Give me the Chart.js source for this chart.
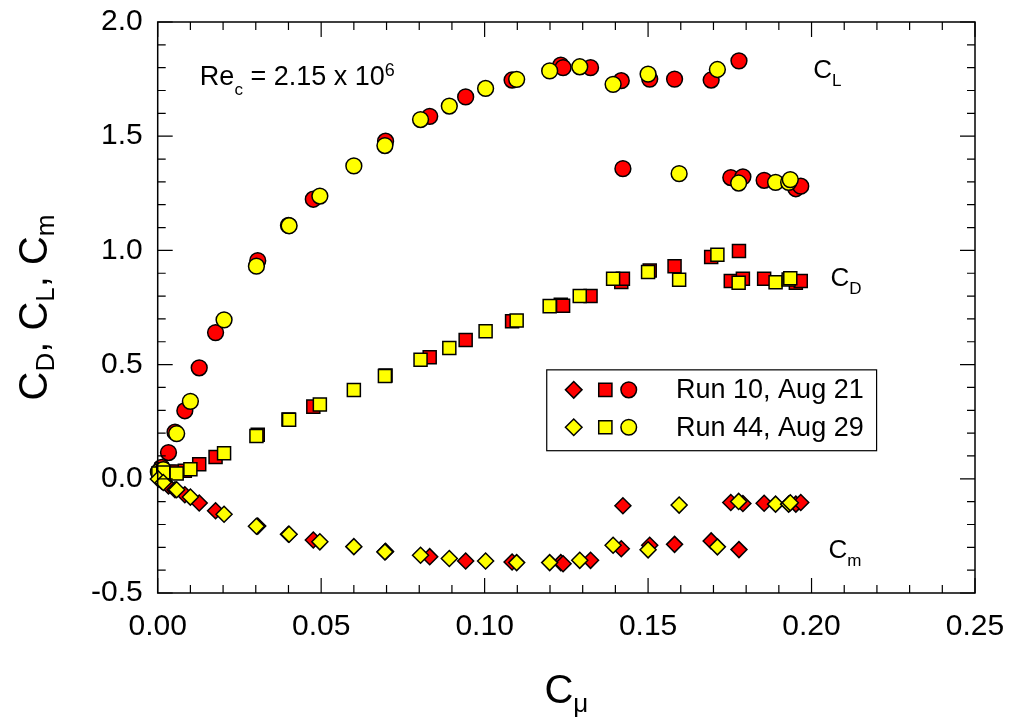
<!DOCTYPE html>
<html>
<head>
<meta charset="utf-8">
<script src="https://cdn.jsdelivr.net/npm/chart.js@4.4.0/dist/chart.umd.min.js"></script>
<style>
html,body{margin:0;padding:0;background:#fff;}
#wrap{width:1010px;height:721px;position:relative;}
</style>
</head>
<body>
<div id="wrap"><canvas id="c"></canvas></div>
<script>
// ---- Data ----
const run10Cmu = [0.0012,0.0033,0.0053,0.0083,0.0127,0.0177,0.0306,0.0400,0.0476,0.0697,0.0832,0.0942,0.1084,0.1233,0.1240,0.1324,0.1418,0.1505,0.1581,0.1693,0.1778,0.1423,0.1753,0.1790,0.1855,0.1952,0.1967];
const run10CL  = [0.050,0.115,0.204,0.298,0.486,0.640,0.955,1.110,1.224,1.478,1.587,1.672,1.746,1.811,1.800,1.800,1.743,1.750,1.750,1.746,1.830,1.358,1.319,1.322,1.307,1.270,1.281];
const run10CD  = [0.042,0.030,0.032,0.035,0.064,0.095,0.193,0.260,0.316,0.452,0.532,0.608,0.690,0.762,0.758,0.800,0.862,0.912,0.931,0.971,0.997,0.876,0.866,0.876,0.876,0.858,0.866];
const run10Cm  = [-0.010,-0.031,-0.048,-0.070,-0.106,-0.140,-0.207,-0.243,-0.268,-0.318,-0.341,-0.360,-0.364,-0.367,-0.372,-0.357,-0.306,-0.291,-0.287,-0.272,-0.310,-0.118,-0.104,-0.108,-0.107,-0.111,-0.104];

const run44Cmu = [0.0002,0.0017,0.0058,0.0100,0.0203,0.0302,0.0402,0.0496,0.0600,0.0695,0.0804,0.0892,0.1003,0.1098,0.1199,0.1291,0.1393,0.1500,0.1712,0.1595,0.1777,0.1890,0.1930,0.1935];
const run44CL  = [0.030,0.040,0.198,0.339,0.696,0.931,1.108,1.238,1.370,1.459,1.573,1.632,1.709,1.749,1.786,1.804,1.727,1.772,1.792,1.336,1.295,1.298,1.298,1.310];
const run44CD  = [0.023,0.028,0.023,0.042,0.112,0.187,0.259,0.325,0.389,0.450,0.521,0.573,0.646,0.693,0.756,0.800,0.876,0.905,0.981,0.871,0.858,0.861,0.873,0.878];
const run44Cm  = [-0.001,-0.016,-0.048,-0.080,-0.155,-0.208,-0.243,-0.276,-0.297,-0.320,-0.335,-0.349,-0.360,-0.367,-0.367,-0.357,-0.291,-0.311,-0.298,-0.115,-0.099,-0.111,-0.111,-0.105];

const xTickValues = [0.00,0.05,0.10,0.15,0.20,0.25];
const yTickValues = [-0.5,0.0,0.5,1.0,1.5,2.0];
const seriesNames = ['Run 10, Aug 21','Run 44, Aug 29'];
const seriesColors = ['#FF0000','#FFFF00'];

// ---- Build datasets ----
function pts(xs, ys){ return xs.map((x,i)=>({x:x, y:ys[i]})); }
const FONT = "'Liberation Sans', Arial, Helvetica, sans-serif";

function ds(label, data, color, style, radius, order){
  return {label, data, showLine:false, pointStyle:style, pointRadius:radius, pointHoverRadius:radius,
    backgroundColor:color, borderColor:'#000', pointBorderWidth:1.5, borderWidth:1.5, order, clip:false};
}
const datasets = [
  ds(seriesNames[1]+' Cm', pts(run44Cmu, run44Cm), seriesColors[1], 'rectRot', 8, 0),
  ds(seriesNames[1]+' CD', pts(run44Cmu, run44CD), seriesColors[1], 'rect', 9.2, 0),
  ds(seriesNames[1]+' CL', pts(run44Cmu, run44CL), seriesColors[1], 'circle', 7.9, 0),
  ds(seriesNames[0]+' Cm', pts(run10Cmu, run10Cm), seriesColors[0], 'rectRot', 8, 1),
  ds(seriesNames[0]+' CD', pts(run10Cmu, run10CD), seriesColors[0], 'rect', 9.2, 1),
  ds(seriesNames[0]+' CL', pts(run10Cmu, run10CL), seriesColors[0], 'circle', 7.9, 1)
];

// text with sub/superscripts: parts = [[text, fontSize, dy]]
function drawRuns(ctx, x, y, parts, align){
  let total = 0;
  parts.forEach(p=>{ ctx.font = p[1]+'px '+FONT; total += ctx.measureText(p[0]).width; });
  let cx = align==='center' ? x - total/2 : x;
  ctx.textBaseline = 'alphabetic';
  ctx.textAlign = 'left';
  parts.forEach(p=>{ ctx.font = p[1]+'px '+FONT; ctx.fillText(p[0], cx, y + (p[2]||0)); cx += ctx.measureText(p[0]).width; });
}

function marker(ctx, style, x, y, color){
  ctx.save();
  ctx.fillStyle = color; ctx.strokeStyle = '#000'; ctx.lineWidth = 1.5;
  ctx.beginPath();
  if (style==='rectRot'){ const r=8.3; ctx.moveTo(x-r,y); ctx.lineTo(x,y-r); ctx.lineTo(x+r,y); ctx.lineTo(x,y+r); ctx.closePath(); }
  else if (style==='rect'){ const s=6.6; ctx.rect(x-s,y-s,2*s,2*s); }
  else { ctx.arc(x,y,7.8,0,Math.PI*2); }
  ctx.fill(); ctx.stroke();
  ctx.restore();
}

const decorations = {
  id:'decorations',
  afterDatasetsDraw(chart){
    const ctx = chart.ctx, a = chart.chartArea, xs = chart.scales.x, ys = chart.scales.y;
    ctx.save();
    // frame
    ctx.strokeStyle = '#000'; ctx.lineWidth = 1.5;
    ctx.strokeRect(a.left, a.top, a.right-a.left, a.bottom-a.top);
    // ticks inward on all sides
    ctx.lineWidth = 1.2;
    ctx.beginPath();
    for (let i=0;i<xTickValues.length;i++){
      const v = xTickValues[i];
      const px = xs.getPixelForValue(v);
      ctx.moveTo(px, a.bottom); ctx.lineTo(px, a.bottom-15);
      ctx.moveTo(px, a.top); ctx.lineTo(px, a.top+15);
      if (i < xTickValues.length-1){
        const step = (xTickValues[i+1]-v)/5;
        for (let k=1;k<5;k++){
          const mx = xs.getPixelForValue(v+k*step);
          ctx.moveTo(mx, a.bottom); ctx.lineTo(mx, a.bottom-8);
          ctx.moveTo(mx, a.top); ctx.lineTo(mx, a.top+8);
        }
      }
    }
    for (let i=0;i<yTickValues.length;i++){
      const v = yTickValues[i];
      const py = ys.getPixelForValue(v);
      ctx.moveTo(a.left, py); ctx.lineTo(a.left+15, py);
      ctx.moveTo(a.right, py); ctx.lineTo(a.right-15, py);
      if (i < yTickValues.length-1){
        const step = (yTickValues[i+1]-v)/5;
        for (let k=1;k<5;k++){
          const my = ys.getPixelForValue(v+k*step);
          ctx.moveTo(a.left, my); ctx.lineTo(a.left+8, my);
          ctx.moveTo(a.right, my); ctx.lineTo(a.right-8, my);
        }
      }
    }
    ctx.stroke();

    ctx.fillStyle = '#000';
    // annotations
    drawRuns(ctx, xs.getPixelForValue(0.0129), ys.getPixelForValue(1.724),
      [['Re',27,0],['c',17,10],[' = 2.15 x 10',27,0],['6',18,-9]], 'left');
    drawRuns(ctx, xs.getPixelForValue(0.2005), ys.getPixelForValue(1.756),
      [['C',26,0],['L',17,8]], 'left');
    drawRuns(ctx, xs.getPixelForValue(0.2058), ys.getPixelForValue(0.846),
      [['C',26,0],['D',17,8]], 'left');
    drawRuns(ctx, xs.getPixelForValue(0.2052), ys.getPixelForValue(-0.348),
      [['C',26,0],['m',17,8]], 'left');

    // legend
    const L = xs.getPixelForValue(0.119), R = xs.getPixelForValue(0.2199);
    const T = ys.getPixelForValue(0.477), B = ys.getPixelForValue(0.123);
    ctx.fillStyle = '#fff'; ctx.fillRect(L, T, R-L, B-T);
    ctx.strokeStyle = '#000'; ctx.lineWidth = 1.2; ctx.strokeRect(L, T, R-L, B-T);
    const rows = [T+20, T+57.4];
    rows.forEach((ry, i)=>{
      marker(ctx, 'rectRot', L+27, ry, seriesColors[i]);
      marker(ctx, 'rect', L+58.6, ry, seriesColors[i]);
      marker(ctx, 'circle', L+82, ry, seriesColors[i]);
      ctx.fillStyle = '#000';
      ctx.font = '27px '+FONT; ctx.textAlign='left'; ctx.textBaseline='middle';
      ctx.fillText(seriesNames[i], L+129.3, ry+1);
    });

    // axis titles
    ctx.fillStyle = '#000';
    const cx = (a.left+a.right)/2;
    drawRuns(ctx, cx, 703, [['C',40,0],['\u03bc',26,9]], 'center');
    ctx.save();
    ctx.translate(47, (a.top+a.bottom)/2);
    ctx.rotate(-Math.PI/2);
    drawRuns(ctx, 0, 0, [['C',40,0],['D',26,7],[', C',40,0],['L',26,7],[', C',40,0],['m',26,7]], 'center');
    ctx.restore();
    ctx.restore();
  }
};

new Chart(document.getElementById('c'), {
  type:'scatter',
  data:{datasets},
  options:{
    responsive:true, maintainAspectRatio:false, animation:false, devicePixelRatio:1,
    layout:{padding:{left:0,right:35,top:22,bottom:0}},
    plugins:{legend:{display:false}, tooltip:{enabled:false}},
    scales:{
      x:{type:'linear', min:0, max:0.25,
        afterBuildTicks:s=>{ s.ticks = xTickValues.map(v=>({value:v})); },
        afterFit:s=>{ s.height = 128; s.paddingLeft = 0; s.paddingRight = 0; },
        grid:{display:false, drawTicks:false}, border:{display:false},
        ticks:{padding:16, color:'#000', font:{family:FONT, size:30}, maxRotation:0, autoSkip:false,
          callback:v=>Number(v).toFixed(2)}},
      y:{type:'linear', min:-0.5, max:2.0,
        afterBuildTicks:s=>{ s.ticks = yTickValues.map(v=>({value:v})); },
        afterFit:s=>{ s.width = 157.7; s.paddingTop = 0; s.paddingBottom = 0; },
        grid:{display:false, drawTicks:false}, border:{display:false},
        ticks:{padding:15, color:'#000', font:{family:FONT, size:30}, autoSkip:false,
          callback:v=>Number(v).toFixed(1)}}
    }
  },
  plugins:[decorations]
});
</script>
</body>
</html>
